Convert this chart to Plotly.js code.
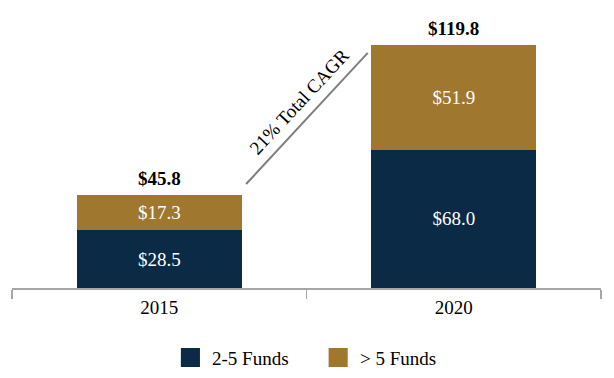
<!DOCTYPE html>
<html><head><meta charset="utf-8">
<script src="https://cdn.plot.ly/plotly-3.0.1.min.js"></script>
<style>html,body{margin:0;padding:0;background:#fff}#chart{width:614px;height:378px}</style>
</head><body><div id="chart"></div>
<script>
const years = ['2015', '2020'];
const seriesNames = ['2-5 Funds', '> 5 Funds'];
const funds2to5 = [28.5, 68.0];
const fundsOver5 = [17.3, 51.9];
const totals = [45.8, 119.8];
const cagrLabel = '21% Total CAGR';
const colors = ['#0b2a45', '#a0772f'];
const font = 'Liberation Serif, Times New Roman, serif';

const traces = [funds2to5, fundsOver5].map((vals, i) => ({
  type: 'bar', x: years, y: vals, name: seriesNames[i],
  marker: {color: colors[i]}, width: 0.56,
  text: vals.map(v => '$' + v.toFixed(1)), textposition: 'inside',
  insidetextanchor: 'middle', textangle: 0,
  textfont: {family: font, size: 19, color: '#ffffff'},
  hoverinfo: 'none', showlegend: false
}));

const annotations = totals.map((t, i) => ({
  x: i, y: t, xref: 'x', yref: 'y', text: '<b>$' + t.toFixed(1) + '</b>',
  showarrow: false, yanchor: 'bottom', yshift: 4,
  font: {family: font, size: 19, color: '#000'}
}));
annotations.push({
  x: 0.475, y: 92, xref: 'x', yref: 'y', text: cagrLabel, showarrow: false,
  textangle: -47,
  font: {family: font, size: 19, color: '#000'}
});
const shapes = [{
  type: 'line', xref: 'x', yref: 'y', x0: 0.295, y0: 51.2, x1: 0.708, y1: 115.8,
  line: {color: '#7f7f7f', width: 2}
}];
const legX = [180, 327];
seriesNames.forEach((n, i) => {
  shapes.push({type: 'rect', xref: 'paper', yref: 'paper',
    x0: (legX[i] - 12) / 586, x1: (legX[i] + 7) / 586,
    y0: (288 - 367) / 268, y1: (288 - 348) / 268,
    fillcolor: colors[i], line: {width: 0}});
  annotations.push({xref: 'paper', yref: 'paper', x: (legX[i] + 17) / 586, y: (288 - 358) / 268,
    xanchor: 'left', yanchor: 'middle', text: n, showarrow: false,
    font: {family: font, size: 19, color: '#000'}});
});

const layout = {
  width: 614, height: 378,
  margin: {l: 12, r: 13, t: 20, b: 90},
  barmode: 'stack', paper_bgcolor: '#fff', plot_bgcolor: '#fff',
  xaxis: {type: 'category', range: [-0.5, 1.5], showline: true, linecolor: '#a6a6a6', linewidth: 1.5,
    ticks: 'outside', tickson: 'boundaries', ticklen: 9, tickcolor: '#a6a6a6', tickwidth: 1.5,
    showgrid: false, tickfont: {family: font, size: 19, color: '#000'}, ticklabelstandoff: 2},
  yaxis: {range: [0, 132], visible: false, showgrid: false, zeroline: false},
  annotations, shapes, showlegend: false
};
Plotly.newPlot('chart', traces, layout, {displayModeBar: false, staticPlot: true});
</script></body></html>
